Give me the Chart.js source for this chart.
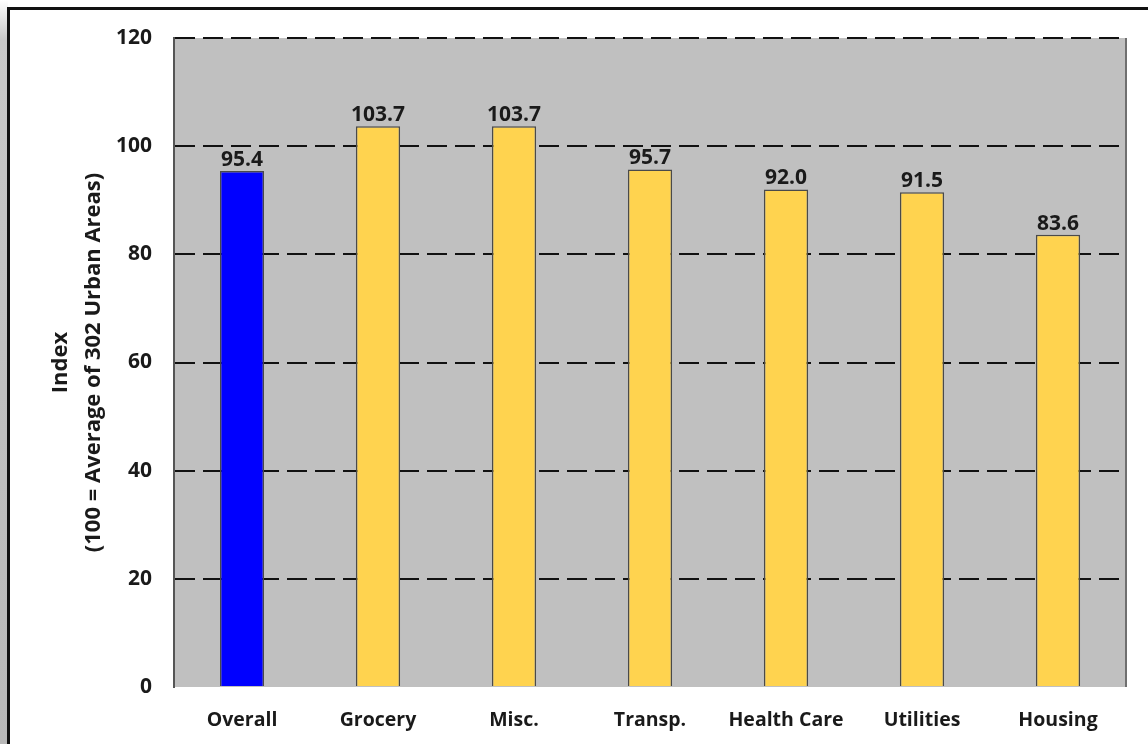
<!DOCTYPE html>
<html>
<head>
<meta charset="utf-8">
<script src="https://cdn.jsdelivr.net/npm/chart.js@4.4.1/dist/chart.umd.min.js"></script>
<style>
  html, body { margin: 0; padding: 0; background: #fff; width: 1148px; height: 744px; overflow: hidden; }
  #shadow { position: absolute; left: 0; top: 0; width: 8px; height: 744px;
    background: linear-gradient(to bottom, #ffffff 0px, #c8c8c8 40px, #b8b8b8 744px); }
  #frame { position: absolute; left: 7px; top: 7px; width: 1200px; height: 800px;
    border-top: 3px solid #111; border-left: 3px solid #111; box-sizing: border-box; }
  #wrap { position: absolute; left: 0; top: 0; width: 1148px; height: 744px; }
</style>
</head>
<body>
<div id="shadow"></div>
<div id="frame"></div>
<div id="wrap"><canvas id="c" width="1148" height="744"></canvas></div>
<script>
const categories = ["Overall", "Grocery", "Misc.", "Transp.", "Health Care", "Utilities", "Housing"];
const indexValues = [95.4, 103.7, 103.7, 95.7, 92.0, 91.5, 83.6];
const barColors = ["#0000ff", "#ffd34f", "#ffd34f", "#ffd34f", "#ffd34f", "#ffd34f", "#ffd34f"];
const yTicks = [0, 20, 40, 60, 80, 100, 120];
const yTitle = ["Index", "(100 = Average of 302 Urban Areas)"];

const FONT = "'Open Sans', Lato, sans-serif";

const plotBg = {
  id: 'plotBg',
  beforeDraw(chart) {
    const {ctx, chartArea: a} = chart;
    ctx.save();
    ctx.fillStyle = '#c0c0c0';
    ctx.fillRect(a.left, a.top, a.right - a.left, a.bottom - a.top);
    ctx.strokeStyle = '#6f6f6f';
    ctx.lineWidth = 2;
    ctx.beginPath();
    ctx.moveTo(a.right, a.top);
    ctx.lineTo(a.right, a.bottom);
    ctx.stroke();
    ctx.restore();
  }
};

const valueLabels = {
  id: 'valueLabels',
  afterDatasetsDraw(chart) {
    const {ctx} = chart;
    const meta = chart.getDatasetMeta(0);
    ctx.save();
    ctx.font = "bold 21px " + FONT;
    ctx.fillStyle = '#1a1a1a';
    ctx.textAlign = 'center';
    ctx.textBaseline = 'alphabetic';
    meta.data.forEach((bar, i) => {
      ctx.fillText(indexValues[i].toFixed(1), bar.x, bar.y - 5);
    });
    ctx.restore();
  }
};

new Chart(document.getElementById('c'), {
  type: 'bar',
  data: {
    labels: categories,
    datasets: [{
      data: indexValues,
      backgroundColor: barColors,
      borderColor: '#4a4a4a',
      borderWidth: 1.5,
      borderSkipped: 'bottom',
      categoryPercentage: 1.0,
      barPercentage: 0.325
    }]
  },
  options: {
    responsive: false,
    animation: false,
    devicePixelRatio: 1,
    layout: { padding: { top: 38, right: 22, left: 0, bottom: 0 } },
    plugins: { legend: { display: false }, tooltip: { enabled: false } },
    scales: {
      x: {
        grid: { display: false, drawTicks: false },
        border: { display: false },
        ticks: { color: '#1a1a1a', font: { family: FONT, size: 19.5, weight: 'bold' }, padding: 22 },
        afterFit(s) { s.height = 57; }
      },
      y: {
        min: 0, max: 120,
        afterBuildTicks(s) { s.ticks = yTicks.map(v => ({ value: v })); },
        grid: {
          drawTicks: false,
          color: ctx => (ctx.tick && ctx.tick.value === 0) ? 'rgba(0,0,0,0)' : '#111',
          lineWidth: 2
        },
        border: { display: true, color: '#555', width: 2, dash: [20, 8] },
        ticks: { color: '#1a1a1a', font: { family: FONT, size: 21, weight: 'bold' }, padding: 22 },
        title: {
          display: true,
          text: yTitle,
          color: '#1a1a1a',
          font: { family: FONT, size: 22, weight: 'bold', lineHeight: '33px' },
          padding: { top: 44, bottom: 0 }
        },
        afterFit(s) { s.width = 174; }
      }
    }
  },
  plugins: [plotBg, valueLabels]
});
</script>
</body>
</html>
